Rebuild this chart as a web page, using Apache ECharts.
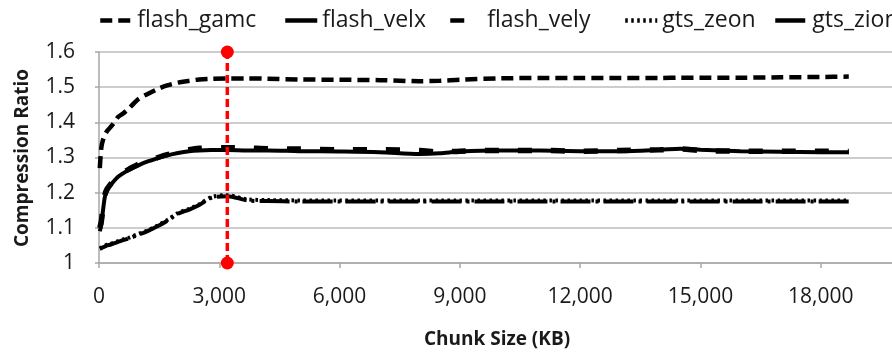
<!DOCTYPE html>
<html>
<head>
<meta charset="utf-8">
<script src="https://cdn.jsdelivr.net/npm/echarts@6/dist/echarts.min.js"></script>
<style>
  html, body { margin: 0; padding: 0; background: #fff; }
  #chart { width: 892px; height: 355px; }
</style>
</head>
<body>
<div id="chart"></div>
<script>
// Chunk sizes (KB) at which compression ratio was measured
const chunkSizes = [20, 60, 100, 150, 200, 275, 350, 475, 600, 750, 970, 1200, 1470, 1700, 1970, 2250, 2500, 2800, 3200, 3700, 4200, 5000, 6000, 7000, 8000, 8500, 9000, 10000, 11000, 12000, 13000, 14000, 14500, 15000, 16000, 17000, 18000, 18700];

const flashGamc = [1.27, 1.33, 1.35, 1.365, 1.375, 1.385, 1.395, 1.415, 1.425, 1.44, 1.465, 1.48, 1.495, 1.505, 1.513, 1.518, 1.522, 1.524, 1.525, 1.525, 1.524, 1.522, 1.521, 1.52, 1.517, 1.518, 1.521, 1.525, 1.526, 1.526, 1.526, 1.526, 1.527, 1.527, 1.527, 1.528, 1.529, 1.53];
const flashVelx = [1.09, 1.11, 1.15, 1.19, 1.205, 1.22, 1.23, 1.245, 1.255, 1.265, 1.277, 1.288, 1.298, 1.306, 1.313, 1.318, 1.32, 1.321, 1.321, 1.32, 1.32, 1.318, 1.317, 1.315, 1.31, 1.312, 1.317, 1.32, 1.32, 1.318, 1.318, 1.322, 1.325, 1.322, 1.318, 1.316, 1.315, 1.315];
const flashVely = [1.10, 1.12, 1.16, 1.195, 1.21, 1.222, 1.232, 1.247, 1.257, 1.267, 1.28, 1.29, 1.30, 1.308, 1.316, 1.322, 1.326, 1.328, 1.328, 1.327, 1.325, 1.324, 1.322, 1.322, 1.32, 1.315, 1.318, 1.32, 1.32, 1.318, 1.32, 1.322, 1.324, 1.32, 1.318, 1.318, 1.318, 1.317];
const gtsZeon = [1.042, 1.044, 1.047, 1.049, 1.052, 1.054, 1.057, 1.062, 1.067, 1.072, 1.082, 1.092, 1.107, 1.122, 1.142, 1.154, 1.167, 1.187, 1.193, 1.181, 1.179, 1.178, 1.178, 1.178, 1.178, 1.178, 1.178, 1.178, 1.178, 1.178, 1.178, 1.178, 1.178, 1.178, 1.178, 1.178, 1.178, 1.178];
const gtsZion = [1.04, 1.042, 1.045, 1.047, 1.05, 1.052, 1.055, 1.06, 1.065, 1.07, 1.08, 1.09, 1.105, 1.12, 1.14, 1.152, 1.165, 1.185, 1.19, 1.178, 1.176, 1.175, 1.175, 1.175, 1.175, 1.175, 1.175, 1.175, 1.175, 1.175, 1.175, 1.175, 1.175, 1.175, 1.175, 1.175, 1.175, 1.175];

// Selected chunk size, drawn as a vertical marker across the ratio range
const markerChunk = 3200;
const markerRange = [1.0, 1.6];

// Axis ticks
const xTicks = { min: 0, max: 21000, step: 3000 };
const yTicks = { min: 1.0, max: 1.6, step: 0.1 };

const seriesNames = ['flash_gamc', 'flash_velx', 'flash_vely', 'gts_zeon', 'gts_zion'];
const seriesValues = [flashGamc, flashVelx, flashVely, gtsZeon, gtsZion];
const lineStyles = [
  { width: 4.5, type: [12, 6] },
  { width: 4, type: 'solid' },
  { width: 5.5, type: [14, 19] },
  { width: 4, type: [2.5, 3.5] },
  { width: 4, type: [30, 5, 3, 5] }
];

const pairs = vals => chunkSizes.map((x, i) => [x, vals[i]]);

const FONT = '"Open Sans", "Liberation Sans", sans-serif';
const legendLefts = [93, 278, 443, 618, 768];

const chart = echarts.init(document.getElementById('chart'), null, { renderer: 'canvas' });

const series = seriesNames.map((name, i) => ({
  name,
  type: 'line',
  data: pairs(seriesValues[i]),
  symbol: 'none',
  smooth: 0.3,
  lineStyle: Object.assign({ color: '#000', cap: 'butt' }, lineStyles[i]),
  itemStyle: { color: '#000' },
  z: 3 + i
}));

series.push({
  name: 'marker',
  type: 'line',
  data: markerRange.map(v => [markerChunk, v]),
  symbol: 'circle',
  symbolSize: 13,
  clip: false,
  lineStyle: { color: '#ff0000', width: 3.5, type: [8, 4] },
  itemStyle: { color: '#ff0000' },
  z: 10
});

chart.setOption({
  animation: false,
  backgroundColor: '#fff',
  textStyle: { fontFamily: FONT },
  legend: seriesNames.map((name, i) => ({
    data: [{
      name,
      lineStyle: { width: 4.5, type: lineStyles[i].type, color: '#000' },
      itemStyle: { opacity: 0 }
    }],
    left: legendLefts[i],
    top: 4,
    itemWidth: 32,
    itemHeight: 14,
    selectedMode: false,
    itemStyle: { opacity: 0 },
    textStyle: { fontFamily: FONT, fontSize: 23, color: '#1a1a1a' }
  })),
  grid: { left: 99, right: -49, top: 52, bottom: 92, containLabel: false, outerBoundsMode: 'none' },
  xAxis: {
    type: 'value',
    min: xTicks.min,
    max: xTicks.max,
    interval: xTicks.step,
    axisLine: { show: true, lineStyle: { color: '#a6a6a6', width: 1.5 } },
    axisTick: { show: true, length: 5, lineStyle: { color: '#a6a6a6', width: 1.5 } },
    splitLine: { show: false },
    axisLabel: {
      margin: 24,
      fontFamily: FONT,
      fontSize: 21,
      color: '#1a1a1a',
      formatter: v => v.toLocaleString('en-US')
    }
  },
  yAxis: {
    type: 'value',
    min: yTicks.min,
    max: yTicks.max,
    interval: yTicks.step,
    axisLine: { show: true, lineStyle: { color: '#a6a6a6', width: 1.5 } },
    axisTick: { show: true, length: 4, lineStyle: { color: '#a6a6a6', width: 1.5 } },
    splitLine: { show: true, lineStyle: { color: '#bdbdbd', width: 1.5 } },
    axisLabel: {
      margin: 24,
      fontFamily: FONT,
      fontSize: 21,
      color: '#1a1a1a',
      formatter: v => (Math.abs(v - 1) < 1e-9 ? '1' : v.toFixed(1))
    }
  },
  graphic: [
    {
      type: 'text',
      x: 23, y: 158,
      rotation: Math.PI / 2,
      style: {
        text: 'Compression Ratio',
        font: 'bold 19px ' + FONT,
        fill: '#1a1a1a',
        align: 'center',
        verticalAlign: 'middle'
      }
    },
    {
      type: 'text',
      x: 497, y: 340,
      style: {
        text: 'Chunk Size (KB)',
        font: 'bold 19px ' + FONT,
        fill: '#1a1a1a',
        align: 'center',
        verticalAlign: 'middle'
      }
    }
  ],
  series
});
</script>
</body>
</html>
